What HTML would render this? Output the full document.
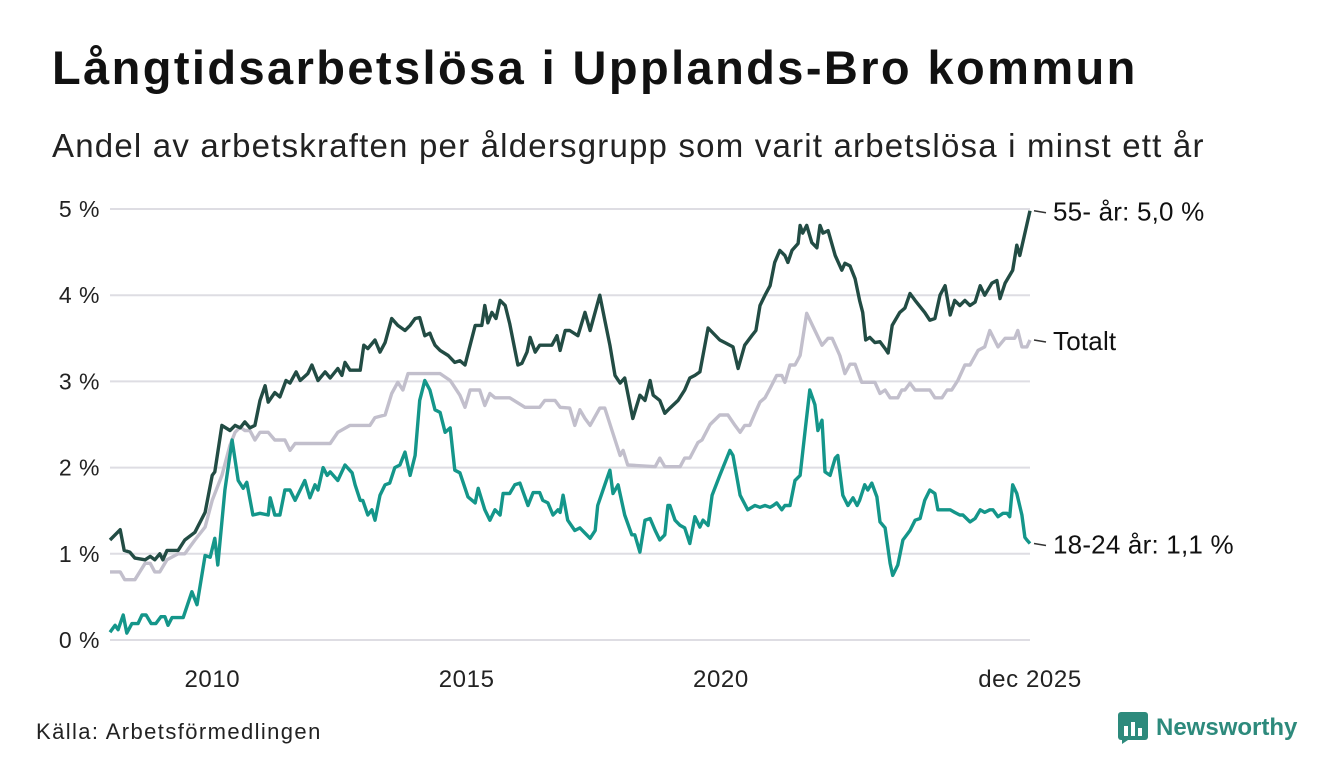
<!DOCTYPE html>
<html><head><meta charset="utf-8">
<style>
body{margin:0;background:#fff;font-family:"Liberation Sans","DejaVu Sans",sans-serif;}
#wrap{position:relative;width:1340px;height:780px;overflow:hidden;background:#fff;}
h1{position:absolute;left:52px;top:40px;margin:0;font-size:47px;font-weight:bold;color:#111;letter-spacing:2.4px;white-space:nowrap}
.sub{position:absolute;left:52px;top:127px;font-size:33px;color:#222;letter-spacing:1.2px;white-space:nowrap}
.src{position:absolute;left:36px;top:719px;font-size:22px;color:#222;letter-spacing:1.4px}
.logo{position:absolute;left:1118px;top:712px;display:flex;align-items:center;gap:8px;color:#2d8a7c;font-weight:bold;font-size:24px}
</style></head><body>
<div id="wrap">
<h1>Långtidsarbetslösa i Upplands-Bro kommun</h1>
<div class="sub">Andel av arbetskraften per åldersgrupp som varit arbetslösa i minst ett år</div>
<svg id="chart" width="1340" height="780" style="position:absolute;left:0;top:0"></svg>
<div class="src">Källa: Arbetsförmedlingen</div>
<div class="logo">
<svg width="30" height="32" viewBox="0 0 30 32"><rect x="0" y="0" width="30" height="28" rx="3" fill="#2d8a7c"/><path d="M4 28 L4 32 L10 28Z" fill="#2d8a7c"/><rect x="6" y="14" width="4" height="10" fill="#fff"/><rect x="13" y="10" width="4" height="14" fill="#fff"/><rect x="20" y="16" width="4" height="8" fill="#fff"/></svg>
<span>Newsworthy</span></div>
</div>
<script>
const yTicks=[0,1,2,3,4,5];
const yTickLabels=["0 %","1 %","2 %","3 %","4 %","5 %"];
const xTicks=[2010,2015,2020,2025.92];
const xTickLabels=["2010","2015","2020","dec 2025"];
const datesOld=[2007.83,2008.03,2008.11,2008.22,2008.32,2008.52,2008.62,2008.71,2008.81,2008.87,2008.95,2009.17,2009.30,2009.50,2009.70,2009.84,2009.89,2010.03,2010.19,2010.29,2010.39,2010.48,2010.58,2010.68,2010.78,2010.88,2010.94,2011.07,2011.17,2011.29,2011.37,2011.49,2011.57,2011.72,2011.80,2011.92,2012.06,2012.16,2012.31,2012.39,2012.45,2012.55,2012.75,2012.82,2012.90,2013.04,2013.14,2013.24,2013.37,2013.49,2013.63,2013.73,2013.83,2013.92,2014.02,2014.12,2014.16,2014.22,2014.32,2014.48,2014.61,2014.71,2014.81,2014.91,2015.01,2015.14,2015.20,2015.26,2015.34,2015.42,2015.50,2015.60,2015.69,2015.85,2015.93,2016.03,2016.09,2016.19,2016.28,2016.52,2016.62,2016.68,2016.78,2016.87,2017.03,2017.17,2017.27,2017.46,2017.56,2017.66,2017.76,2017.86,2017.95,2018.11,2018.25,2018.35,2018.45,2018.51,2018.64,2018.74,2018.84,2019.00,2019.13,2019.23,2019.33,2019.43,2019.59,2019.82,2019.92,2020.08,2020.18,2020.31,2020.45,2020.53,2020.61,2020.71,2020.81,2020.90,2021.00,2021.10,2021.16,2021.24,2021.36,2021.40,2021.45,2021.53,2021.63,2021.73,2021.79,2021.85,2021.95,2022.09,2022.22,2022.28,2022.38,2022.48,2022.57,2022.63,2022.69,2022.77,2022.87,2022.97,2023.07,2023.13,2023.21,2023.36,2023.46,2023.56,2023.66,2023.85,2023.95,2024.05,2024.15,2024.25,2024.35,2024.44,2024.54,2024.64,2024.74,2024.84,2024.94,2025.03,2025.17,2025.27,2025.33,2025.43,2025.58,2025.66,2025.72,2025.92];
const valuesOld=[1.16,1.28,1.04,1.02,0.95,0.93,0.97,0.93,1.0,0.93,1.04,1.04,1.16,1.25,1.48,1.91,1.95,2.49,2.43,2.49,2.46,2.53,2.46,2.49,2.78,2.95,2.76,2.87,2.82,3.01,2.98,3.11,3.01,3.09,3.19,3.01,3.11,3.04,3.15,3.07,3.22,3.13,3.13,3.42,3.38,3.48,3.34,3.45,3.73,3.65,3.59,3.65,3.73,3.74,3.53,3.56,3.5,3.42,3.36,3.30,3.22,3.24,3.19,3.42,3.65,3.65,3.88,3.68,3.80,3.73,3.94,3.88,3.67,3.19,3.21,3.34,3.51,3.34,3.42,3.42,3.53,3.36,3.59,3.59,3.53,3.80,3.59,4.0,3.71,3.42,3.07,2.98,3.04,2.57,2.84,2.78,3.01,2.84,2.78,2.63,2.69,2.78,2.90,3.04,3.07,3.11,3.62,3.48,3.45,3.40,3.15,3.42,3.53,3.59,3.88,4.0,4.11,4.38,4.52,4.46,4.38,4.52,4.6,4.81,4.72,4.81,4.61,4.55,4.81,4.72,4.75,4.46,4.29,4.37,4.34,4.19,3.94,3.8,3.48,3.51,3.45,3.46,3.38,3.33,3.65,3.8,3.85,4.02,3.94,3.8,3.71,3.73,4.0,4.11,3.77,3.94,3.88,3.94,3.88,3.92,4.11,4.0,4.14,4.17,3.96,4.14,4.29,4.58,4.46,4.98];
const datesTot=[2007.83,2008.03,2008.12,2008.32,2008.52,2008.62,2008.71,2008.81,2008.95,2009.17,2009.30,2009.50,2009.70,2009.84,2010.03,2010.19,2010.29,2010.39,2010.48,2010.58,2010.68,2010.78,2010.94,2011.07,2011.27,2011.37,2011.47,2012.16,2012.31,2012.55,2012.94,2013.04,2013.24,2013.37,2013.49,2013.59,2013.69,2014.32,2014.52,2014.71,2014.81,2014.91,2015.10,2015.20,2015.30,2015.40,2015.69,2015.99,2016.28,2016.38,2016.58,2016.68,2016.87,2016.97,2017.07,2017.17,2017.27,2017.46,2017.56,2017.70,2017.86,2017.92,2018.01,2018.55,2018.64,2018.74,2019.04,2019.13,2019.23,2019.39,2019.47,2019.63,2019.82,2019.98,2020.12,2020.22,2020.31,2020.41,2020.51,2020.61,2020.71,2020.81,2020.94,2021.04,2021.10,2021.20,2021.30,2021.40,2021.53,2021.69,2021.83,2021.95,2022.03,2022.18,2022.28,2022.38,2022.48,2022.61,2022.87,2022.97,2023.07,2023.17,2023.32,2023.40,2023.46,2023.56,2023.66,2023.95,2024.05,2024.19,2024.29,2024.38,2024.50,2024.64,2024.74,2024.90,2025.03,2025.13,2025.29,2025.43,2025.62,2025.68,2025.76,2025.86,2025.92];
const valuesTot=[0.79,0.79,0.70,0.70,0.89,0.89,0.79,0.79,0.93,1.0,1.0,1.16,1.31,1.62,1.91,2.26,2.41,2.47,2.43,2.43,2.32,2.41,2.41,2.32,2.32,2.20,2.28,2.28,2.41,2.49,2.49,2.58,2.61,2.86,2.99,2.9,3.09,3.09,3.01,2.84,2.70,2.9,2.9,2.72,2.86,2.81,2.81,2.70,2.70,2.78,2.78,2.70,2.69,2.49,2.67,2.57,2.49,2.69,2.69,2.43,2.14,2.20,2.03,2.01,2.11,2.01,2.01,2.11,2.11,2.29,2.32,2.50,2.61,2.61,2.49,2.41,2.49,2.49,2.63,2.76,2.81,2.92,3.07,3.07,2.99,3.19,3.19,3.30,3.79,3.59,3.42,3.50,3.50,3.30,3.09,3.20,3.20,2.99,2.99,2.86,2.9,2.81,2.81,2.9,2.9,2.98,2.9,2.9,2.81,2.81,2.9,2.9,3.01,3.19,3.19,3.36,3.40,3.59,3.40,3.50,3.50,3.59,3.40,3.40,3.48];
const datesYoung=[2007.83,2007.93,2007.99,2008.09,2008.16,2008.26,2008.38,2008.46,2008.54,2008.64,2008.73,2008.83,2008.91,2008.97,2009.05,2009.27,2009.44,2009.54,2009.70,2009.80,2009.89,2009.95,2010.09,2010.23,2010.35,2010.45,2010.52,2010.64,2010.78,2010.94,2010.98,2011.07,2011.17,2011.27,2011.37,2011.47,2011.57,2011.66,2011.76,2011.86,2011.92,2012.02,2012.10,2012.16,2012.31,2012.45,2012.59,2012.65,2012.75,2012.80,2012.90,2012.98,2013.04,2013.14,2013.24,2013.33,2013.43,2013.53,2013.63,2013.73,2013.83,2013.92,2014.02,2014.12,2014.22,2014.32,2014.42,2014.52,2014.61,2014.71,2014.87,2015.01,2015.07,2015.20,2015.30,2015.40,2015.50,2015.56,2015.69,2015.79,2015.89,2016.05,2016.15,2016.28,2016.34,2016.44,2016.54,2016.64,2016.68,2016.74,2016.83,2016.97,2017.07,2017.27,2017.37,2017.42,2017.56,2017.66,2017.72,2017.82,2017.95,2018.09,2018.15,2018.25,2018.35,2018.45,2018.55,2018.64,2018.74,2018.80,2018.84,2018.94,2019.04,2019.13,2019.23,2019.33,2019.43,2019.49,2019.59,2019.67,2019.82,2020.02,2020.08,2020.22,2020.37,2020.51,2020.61,2020.71,2020.81,2020.87,2020.94,2021.04,2021.10,2021.20,2021.30,2021.40,2021.51,2021.59,2021.69,2021.75,2021.83,2021.89,2021.99,2022.09,2022.14,2022.24,2022.34,2022.44,2022.52,2022.57,2022.67,2022.73,2022.81,2022.91,2022.97,2023.07,2023.17,2023.22,2023.32,2023.42,2023.46,2023.56,2023.66,2023.76,2023.85,2023.95,2024.05,2024.11,2024.35,2024.44,2024.54,2024.60,2024.74,2024.84,2024.94,2025.03,2025.13,2025.19,2025.29,2025.39,2025.47,2025.52,2025.58,2025.66,2025.76,2025.82,2025.86,2025.92];
const valuesYoung=[0.09,0.17,0.12,0.29,0.08,0.19,0.19,0.29,0.29,0.19,0.19,0.27,0.27,0.17,0.26,0.26,0.56,0.41,0.98,0.96,1.18,0.87,1.74,2.32,1.85,1.76,1.83,1.45,1.47,1.45,1.65,1.45,1.45,1.74,1.74,1.62,1.74,1.85,1.65,1.80,1.74,2.0,1.91,1.95,1.85,2.03,1.94,1.80,1.62,1.62,1.45,1.51,1.39,1.68,1.80,1.82,2.0,2.03,2.18,1.91,2.14,2.78,3.01,2.90,2.67,2.64,2.41,2.46,1.97,1.94,1.66,1.59,1.76,1.51,1.39,1.51,1.45,1.70,1.70,1.80,1.82,1.56,1.71,1.71,1.62,1.59,1.45,1.51,1.48,1.68,1.39,1.27,1.30,1.18,1.27,1.56,1.80,1.97,1.70,1.80,1.45,1.22,1.22,1.02,1.39,1.41,1.27,1.16,1.22,1.56,1.56,1.39,1.33,1.30,1.12,1.43,1.31,1.39,1.33,1.68,1.91,2.2,2.14,1.68,1.51,1.56,1.54,1.56,1.54,1.56,1.59,1.51,1.56,1.56,1.85,1.91,2.49,2.90,2.73,2.43,2.55,1.95,1.91,2.11,2.14,1.68,1.56,1.65,1.56,1.62,1.80,1.74,1.82,1.66,1.37,1.30,0.89,0.75,0.87,1.16,1.19,1.27,1.39,1.41,1.62,1.74,1.70,1.51,1.51,1.48,1.45,1.45,1.37,1.41,1.51,1.48,1.51,1.51,1.43,1.47,1.47,1.43,1.80,1.70,1.45,1.19,1.16,1.12];

const NS='http://www.w3.org/2000/svg';
const svg=document.getElementById('chart');
const X0=110,X1=1030,D0=2007.83,D1=2025.92,Y0=640,PX=86.2;
function sx(d){return X0+(d-D0)/(D1-D0)*(X1-X0);}
function sy(v){return Y0-v*PX;}
function mk(tag,attrs){const e=document.createElementNS(NS,tag);for(const k in attrs)e.setAttribute(k,attrs[k]);svg.appendChild(e);return e;}
yTicks.forEach((t,i)=>{
  const g=mk('line',{x1:X0,x2:X1,y1:sy(t),y2:sy(t),stroke:'#dedde3','stroke-width':2});
  
  
  const l=mk('text',{x:100,y:sy(t)+8,'text-anchor':'end','font-size':23,fill:'#222','font-family':'Liberation Sans, sans-serif','letter-spacing':'0.5'});
  l.textContent=yTickLabels[i];
  
  
});
xTicks.forEach((t,i)=>{
  const l=mk('text',{x:sx(t)-(i<3?8:0),y:687,'text-anchor':'middle','font-size':24,fill:'#222','font-family':'Liberation Sans, sans-serif','letter-spacing':'0.6'});
  l.textContent=xTickLabels[i];
  
  
});
function line(ds,vs,color,name){
  const p=mk('polyline',{points:ds.map((d,i)=>sx(d).toFixed(1)+','+sy(vs[i]).toFixed(1)).join(' '),fill:'none',stroke:color,'stroke-width':3.4,'stroke-linejoin':'round'});
  
  
}
line(datesTot,valuesTot,'#c2bfcc','line-totalt');
line(datesYoung,valuesYoung,'#14968a','line-18-24');
line(datesOld,valuesOld,'#224c44','line-55-plus');
function lab(ds,vs,txt,name){
  const y=sy(vs[vs.length-1]);
  const c=mk('line',{x1:1034,x2:1046,y1:y,y2:y+2,stroke:'#333','stroke-width':1.5});
  
  
  const t=mk('text',{x:1053,y:y+10,'font-size':26,fill:'#111','font-family':'Liberation Sans, sans-serif','letter-spacing':'0.2'});
  t.textContent=txt;
  
  
}
lab(datesOld,valuesOld,'55- år: 5,0 %','label-55-plus');
lab(datesTot,valuesTot,'Totalt','label-totalt');
lab(datesYoung,valuesYoung,'18-24 år: 1,1 %','label-18-24');
</script>
</body></html>
